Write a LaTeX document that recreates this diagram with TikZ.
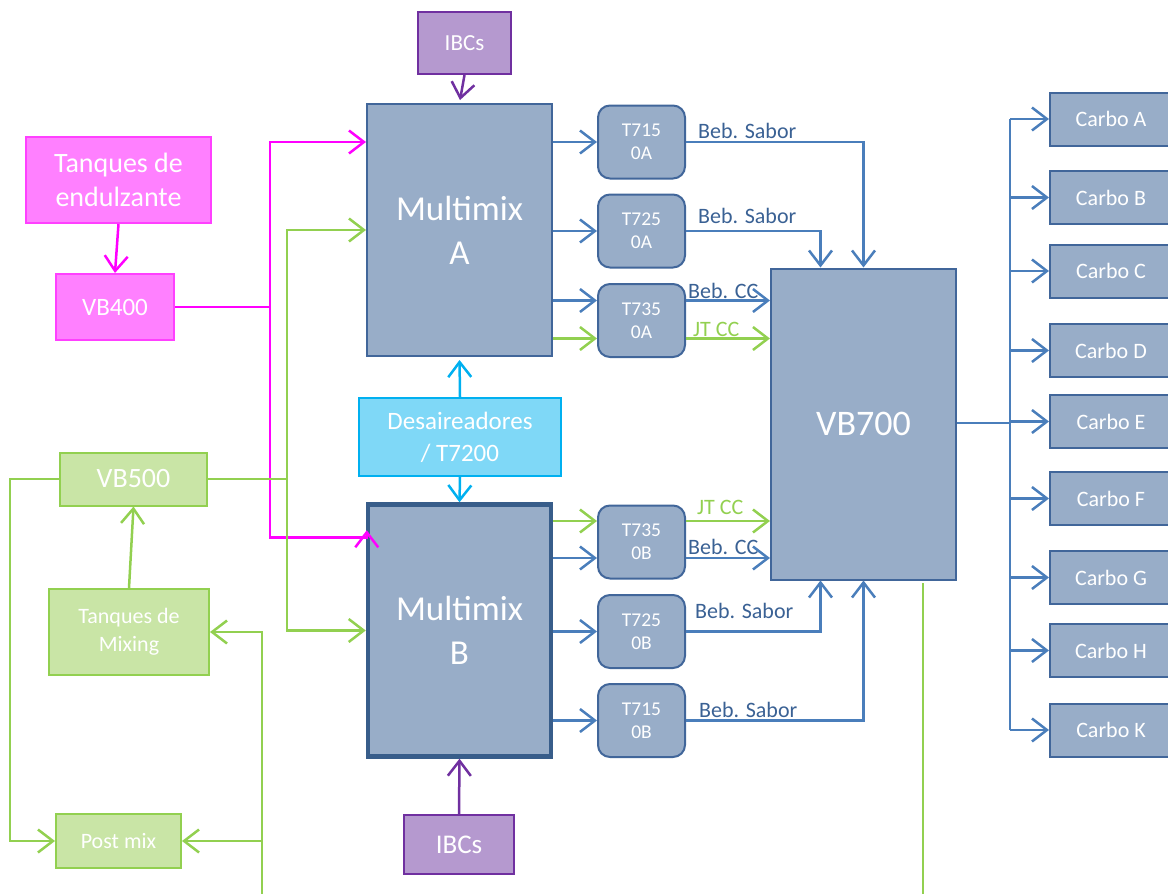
\documentclass[tikz,border=0pt]{standalone}
\usepackage{fontspec}
\setmainfont{Carlito}
\usepackage{xcolor}
\usepackage{tikz}
\usetikzlibrary{positioning,calc,arrows.meta}

\definecolor{hong}{HTML}{FF00FF}
\definecolor{hongnen}{HTML}{FF80FF}
\definecolor{hongvien}{HTML}{FF40FF}
\definecolor{xanhla}{HTML}{92D050}
\definecolor{xanhlanen}{HTML}{C9E5A6}
\definecolor{xamnen}{HTML}{98ADC8}
\definecolor{xamvien}{HTML}{41669A}
\definecolor{xamdam}{HTML}{385D8A}
\definecolor{duong}{HTML}{4A7EBB}
\definecolor{chu}{HTML}{3A6194}
\definecolor{tim}{HTML}{7030A0}
\definecolor{timnen}{HTML}{B599CF}
\definecolor{lam}{HTML}{00B0F0}
\definecolor{lamnen}{HTML}{7FD8F7}

\begin{document}
\begin{tikzpicture}[x=1pt, y=-1pt,
		hop/.style={draw, line width=2pt, align=center, text=white, inner sep=0pt},
		hophong/.style={hop, draw=hongvien, fill=hongnen},
		hopxanh/.style={hop, draw=xanhla, fill=xanhlanen},
		hopxam/.style={hop, draw=xamvien, fill=xamnen},
		hoptim/.style={hop, draw=tim, fill=timnen},
		hoplam/.style={hop, draw=lam, fill=lamnen},
		bon/.style={hopxam, rounded corners=12pt, minimum width=87pt, minimum height=73pt, font=\fontsize{19.5}{23}\selectfont},
		carbo/.style={hopxam, minimum width=122pt, minimum height=53pt, font=\fontsize{22}{26}\selectfont},
		nhan/.style={anchor=base west, inner sep=0pt, font=\fontsize{22}{26}\selectfont},
		duongke/.style={line width=2.5pt},
		muiten/.style={-{Straight Barb[length=15pt,width=23pt]}, duongke},
		denhong/.style={muiten, draw=hong},
		denxanh/.style={muiten, draw=xanhla},
		denxam/.style={muiten, draw=duong},
		dentim/.style={muiten, draw=tim},
		denlam/.style={muiten, draw=lam}]
	\useasboundingbox (0,0) rectangle (1168,894);

	% Cột trái: bồn và VB
	\node[hophong, minimum width=185pt, minimum height=86pt, font=\fontsize{28}{34}\selectfont] (tqE) at (118.5,180) {Tanques de\\endulzante};
	\node[hophong, minimum width=118pt, minimum height=66pt, font=\fontsize{25}{30}\selectfont] (vb4) at (115,307) {VB400};
	\node[hopxanh, minimum width=147pt, minimum height=53pt, font=\fontsize{28}{34}\selectfont] (vb5) at (133.5,479) {VB500};
	\node[hopxanh, minimum width=160pt, minimum height=86pt, font=\fontsize{22}{28}\selectfont] (tqM) at (129,632) {Tanques de\\Mixing};
	\node[hopxanh, minimum width=125pt, minimum height=54pt, font=\fontsize{22}{26}\selectfont] (pmix) at (118.5,841) {Post mix};

	% Multimix, IBCs, desaireadores
	\node[hoptim, minimum width=93pt, minimum height=62pt, font=\fontsize{23}{26}\selectfont] (ibcA) at (464.5,43) {IBCs};
	\node[hopxam, minimum width=185pt, minimum height=252pt, font=\fontsize{35}{44}\selectfont] (mmA) at (459.5,230) {Multimix\\A};
	\node[hoplam, minimum width=202pt, minimum height=78pt, font=\fontsize{25}{32}\selectfont] (dsa) at (460,437) {Desaireadores\\/ T7200};
	\node[hopxam, draw=xamdam, line width=4.5pt, minimum width=183pt, minimum height=252pt, font=\fontsize{35}{44}\selectfont] (mmB) at (459.5,630.5) {Multimix\\B};
	\node[hoptim, minimum width=110pt, minimum height=59pt, font=\fontsize{27}{32}\selectfont] (ibcB) at (459,844.5) {IBCs};

	% Bồn T7xx0
	\node[bon] (t1a) at (641.5,142) {T715\\0A};
	\node[bon] (t2a) at (641.5,231) {T725\\0A};
	\node[bon] (t3a) at (641.5,320.5) {T735\\0A};
	\node[bon] (t3b) at (641.5,542) {T735\\0B};
	\node[bon] (t2b) at (641.5,631.5) {T725\\0B};
	\node[bon] (t1b) at (641.5,720.5) {T715\\0B};

	\node[hopxam, minimum width=185pt, minimum height=311pt, font=\fontsize{36}{44}\selectfont] (vb7) at (863.5,424) {VB700};

	% Carbo A..K
	\foreach \n/\y in {A/119,B/197.5,C/271,D/350.5,E/421.5,F/498.5,G/577.5,H/650.5,K/730}
		\node[carbo] (c\n) at (1111,\y) {Carbo \n};

	% Đường hồng
	\coordinate (pk) at (270,307);
	\draw[duongke, hong] (vb4.east) -- (pk);
	\draw[denhong] (tqE.south) -- (vb4.north);
	\draw[denhong] (pk) |- (mmA.west |- t1a);
	\draw[denhong] (pk) |- ($(mmB.north west)+(-1,35)$) -| ($(mmB.north west)+(1,28)$);

	% Đường xanh lá
	\coordinate (gk) at (287,479);
	\coordinate (gday) at (262,894);
	\coordinate (g7a) at (923,583);
	\coordinate (g7b) at (923,894);
	\draw[duongke, xanhla] (vb5.east) -- (gk);
	\draw[denxanh] (gk) |- (mmA.west);
	\draw[denxanh] (gk) |- (mmB.west);
	\draw[denxanh] (vb5.west) -- ++(-49,0) |- (pmix.west);
	\draw[denxanh] (tqM.north) -- (vb5.south);
	\draw[denxanh] (gday) |- (tqM.east);
	\draw[denxanh] (gday |- pmix) -- (pmix.east);
	\draw[duongke, xanhla] (g7a) -- (g7b);

	% IBCs và desaireadores
	\draw[dentim, shorten >=3pt] (ibcA.south) -- (mmA.north);
	\draw[dentim] (ibcB.north) -- (mmB.south);
	\draw[denlam, shorten >=3pt] (dsa.north) -- (mmA.south);
	\draw[denlam] (dsa.south) -- (mmB.north);

	% Multimix -> bồn
	\draw[denxam] (mmA.east |- t1a) -- (t1a.west);
	\draw[denxam] (mmA.east |- t2a) -- (t2a.west);
	\draw[denxam] ($(mmA.east |- t3a)+(0,-20)$) -- ($(t3a.west)+(0,-20)$);
	\draw[denxanh] ($(mmA.east |- t3a)+(0,18)$) -- ($(t3a.west)+(0,18)$);
	\draw[denxanh] ($(mmB.east |- t3b)+(0,-21)$) -- ($(t3b.west)+(0,-21)$);
	\draw[denxam] ($(mmB.east |- t3b)+(0,16)$) -- ($(t3b.west)+(0,16)$);
	\draw[denxam] (mmB.east |- t2b) -- (t2b.west);
	\draw[denxam] (mmB.east |- t1b) -- (t1b.west);

	% Bồn -> VB700
	\draw[denxam] (t1a.east) -| (vb7.north);
	\draw[denxam] (t2a.east) -| ($(vb7.north)+(-43,0)$);
	\draw[denxam] ($(t3a.east)+(0,-20)$) -- ($(vb7.west |- t3a)+(0,-20)$);
	\draw[denxanh] ($(t3a.east)+(0,18)$) -- ($(vb7.west |- t3a)+(0,18)$);
	\draw[denxanh] ($(t3b.east)+(0,-21)$) -- ($(vb7.west |- t3b)+(0,-21)$);
	\draw[denxam] ($(t3b.east)+(0,16)$) -- ($(vb7.west |- t3b)+(0,16)$);
	\draw[denxam] (t2b.east) -| ($(vb7.south)+(-43,0)$);
	\draw[denxam] (t1b.east) -| (vb7.south);

	\node[nhan, text=chu] (s1a) at ($(t1a.east)+(12,-4)$) {Beb. Sabor};
	\node[nhan, text=chu] (s2a) at ($(t2a.east)+(12,-8)$) {Beb. Sabor};
	\node[nhan, text=chu] (c3a) at ($(t3a.east)+(2,-22)$) {Beb. CC};
	\node[nhan, text=xanhla] (j3a) at ($(t3a.east)+(7,16)$) {JT CC};
	\node[nhan, text=xanhla] (j3b) at ($(t3b.east)+(11,-28)$) {JT CC};
	\node[nhan, text=chu] (c3b) at ($(t3b.east)+(2,12)$) {Beb. CC};
	\node[nhan, text=chu] (s2b) at ($(t2b.east)+(9,-13)$) {Beb. Sabor};
	\node[nhan, text=chu] (s1b) at ($(t1b.east)+(13,-3)$) {Beb. Sabor};

	% VB700 -> Carbo
	\coordinate (cj) at (1010,423);
	\draw[duongke, duong] (vb7.east |- cj) -- (cj);
	\draw[duongke, duong] (cj |- cA) -- (cj |- cK);
	\foreach \n in {A,B,C,D,E,F,G,H,K}
		\draw[denxam] (cj |- c\n) -- (c\n.west);
\end{tikzpicture}
\end{document}
